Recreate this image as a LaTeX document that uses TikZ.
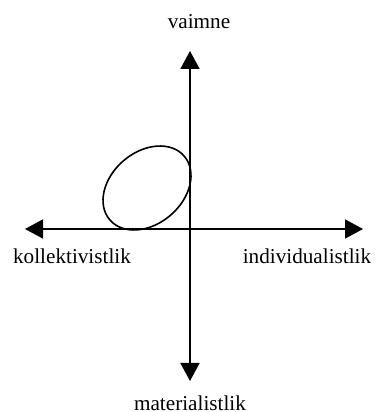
\documentclass[tikz,border=0pt]{standalone}
\usepackage{fontspec}
\setmainfont{Liberation Serif}
\usetikzlibrary{arrows.meta,shapes.geometric}

\begin{document}
\begin{tikzpicture}[x=0.5pt, y=0.5pt,
  telg/.style={-{Triangle[length=9pt, width=9.5pt]}, line width=0.9pt},
  silt/.style={font=\fontsize{10.6}{12}\selectfont, inner sep=0pt}
]
\useasboundingbox (0,0) rectangle (376,412);

% teljed
\coordinate (o) at (190,183);
\coordinate (vasak) at (25,183);
\coordinate (parem) at (363,183);
\coordinate (yles) at (190,361);
\coordinate (alla) at (190,31);

\node[silt] (vaim) at (199,390) {vaimne};
\node[silt] (mat) at (190,9) {materialistlik};
\node[silt] (kol) at (72,156) {kollektivistlik};
\node[silt] (ind) at (307,156) {individualistlik};

\draw[telg] (o) -- (vasak);
\draw[telg] (o) -- (parem);
\draw[telg] (o) -- (yles);
\draw[telg] (o) -- (alla);

% ellips
\node[draw, ellipse, line width=0.8pt, minimum width=49pt, minimum height=36pt,
      inner sep=0pt, rotate=40.5] (ala) at (147,224) {};
\end{tikzpicture}
\end{document}
